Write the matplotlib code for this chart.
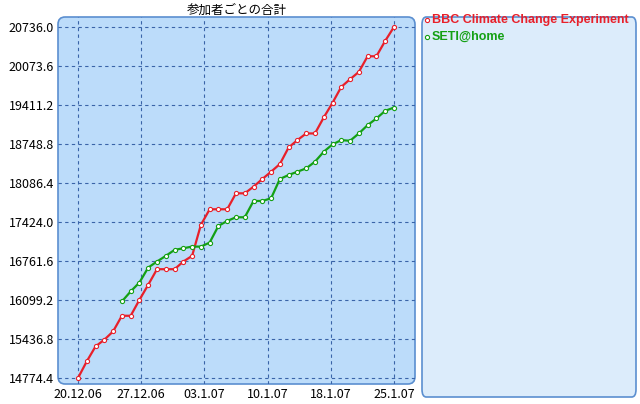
import matplotlib
matplotlib.use("Agg")
import matplotlib.pyplot as plt
from matplotlib.patches import FancyBboxPatch
from matplotlib.lines import Line2D

plt.rcParams['font.family'] = ['Noto Sans CJK JP', 'DejaVu Sans']

title = "参加者ごとの合計"
series_names = ["BBC Climate Change Experiment", "SETI@home"]
x_labels = ["20.12.06", "27.12.06", "03.1.07", "10.1.07", "18.1.07", "25.1.07"]
y_ticks = [14774.4, 15436.8, 16099.2, 16761.6, 17424.0, 18086.4, 18748.8, 19411.2, 20073.6, 20736.0]

bbc = [14774, 15057, 15311, 15424, 15566, 15831, 15831, 16102, 16357, 16622, 16622, 16622,
       16752, 16848, 17374, 17640, 17640, 17640, 17911, 17911, 18024, 18154, 18278, 18408,
       18690, 18815, 18928, 18928, 19199, 19448, 19719, 19849, 19973, 20239, 20239, 20499, 20736]
seti_start = 5
seti = [16074, 16244, 16396, 16650, 16752, 16848, 16950, 16978, 17006, 17006, 17074, 17357,
        17442, 17504, 17504, 17781, 17781, 17826, 18154, 18222, 18278, 18335, 18448, 18617,
        18742, 18815, 18803, 18928, 19069, 19182, 19312, 19368]

W, H = 640, 404
fig = plt.figure(figsize=(W/100, H/100), dpi=100)
fig.patch.set_facecolor("white")

ax = fig.add_axes([58/W, 1-384/H, (415-58)/W, (384-17)/H])
ax.patch.set_visible(False)
for s in ax.spines.values():
    s.set_visible(False)
bg = FancyBboxPatch((0, 0), 1, 1, boxstyle="round,pad=0,rounding_size=0.02",
                    transform=ax.transAxes, facecolor="#bcdcfa", edgecolor="#5b8fd0",
                    linewidth=1.2, zorder=0, clip_on=False)
ax.add_patch(bg)

n = len(bbc)
xs = list(range(n))
ax.plot(xs, bbc, color="#e8202a", lw=1.6, marker="o", ms=3, mfc="white", mec="#e8202a", mew=0.8, zorder=3)
ax.plot(xs[seti_start:], seti, color="#14a014", lw=1.6, marker="o", ms=3, mfc="white", mec="#14a014", mew=0.8, zorder=3)

xt = [i*(n-1)/(len(x_labels)-1) for i in range(len(x_labels))]
ax.set_xticks(xt)
ax.set_xticklabels(x_labels)
ax.set_yticks(y_ticks)
ax.set_yticklabels([f"{v:.1f}" for v in y_ticks])
ax.tick_params(length=0, labelsize=9, pad=3)
ax.set_xlim(-2.28, 38.4)
ax.set_ylim(14672, 20906)
ax.grid(True, color="#3a64a8", ls=(0, (3, 3)), lw=0.8)
ax.set_axisbelow(True)
ax.set_title(title, fontsize=9, pad=2)

lax = fig.add_axes([422/W, 1-397/H, (636-422)/W, (397-17)/H])
lax.set_axis_off()
lax.add_patch(FancyBboxPatch((0, 0), 1, 1, boxstyle="round,pad=0,rounding_size=0.02",
                             transform=lax.transAxes, facecolor="#dcecfb", edgecolor="#5b8fd0",
                             linewidth=1.2, clip_on=False))
cols = ["#e8202a", "#14a014"]
for i, (name, c) in enumerate(zip(series_names, cols)):
    y = 1 - (3 + i*17) / 380
    lax.add_line(Line2D([0.025], [y], marker="o", ms=3, mfc="white", mec=c, mew=0.8, transform=lax.transAxes))
    lax.text(0.045, y, name, color=c, fontweight="bold", fontsize=9, va="center", transform=lax.transAxes,
             family=["Liberation Sans"])

fig.savefig("out.png", dpi=100)
